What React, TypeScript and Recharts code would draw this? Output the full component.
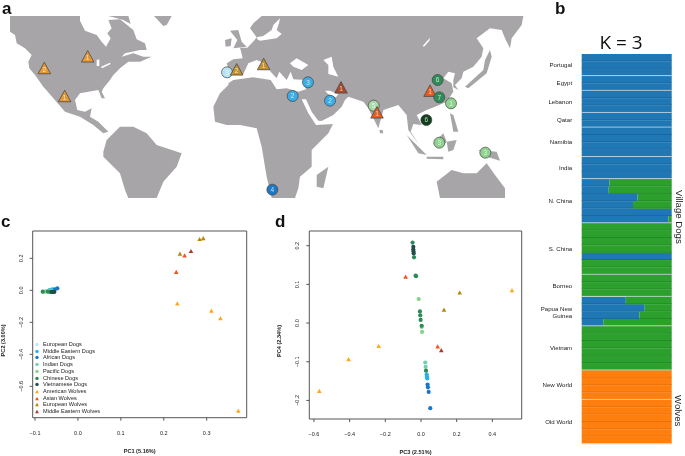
import { BarChart, Bar, XAxis, YAxis, ScatterChart, Scatter, ReferenceArea, Legend, Label } from 'recharts';

// map units are 3 per screen pixel
const northAmerica = [[30,48],[240,48],[240,62],[255,92],[290,105],[305,125],[318,140],[332,115],[322,100],[335,85],[325,60],[360,58],[400,90],[410,118],[435,130],[440,150],[420,150],[375,160],[365,170],[400,160],[430,170],[455,170],[420,185],[385,185],[360,205],[340,225],[330,240],[310,265],[305,275],[315,295],[305,295],[295,270],[240,280],[225,300],[232,330],[255,335],[275,325],[270,350],[295,365],[325,395],[310,400],[280,375],[240,350],[195,335],[160,295],[130,260],[105,225],[88,205],[85,185],[95,165],[75,145],[50,130],[45,105],[30,95]];
const arcticIsland = [[325,48],[385,48],[392,72],[370,60],[340,52]];
const southAmerica = [[310,455],[320,420],[360,380],[400,380],[440,400],[470,435],[545,460],[530,500],[490,545],[470,594],[385,594],[375,570],[360,520],[310,470]];
const greenland = [[462,48],[515,48],[500,75],[490,78]];
const afroEurasia = [[640,320],[660,280],[685,255],[690,222],[680,190],[700,178],[728,175],[722,150],[720,143],[742,143],[762,122],[770,112],[750,85],[760,70],[785,48],[1570,48],[1565,75],[1535,115],[1530,145],[1515,115],[1505,90],[1470,85],[1430,115],[1450,145],[1445,170],[1420,200],[1390,215],[1385,235],[1365,255],[1375,270],[1360,262],[1360,240],[1365,220],[1345,215],[1330,235],[1355,250],[1360,275],[1340,305],[1305,320],[1280,330],[1250,345],[1265,375],[1240,372],[1232,395],[1258,435],[1225,390],[1220,345],[1195,315],[1150,330],[1135,385],[1105,325],[1090,305],[1045,290],[1035,300],[1025,320],[1000,345],[960,365],[960,372],[1000,370],[985,400],[935,450],[935,500],[900,530],[895,565],[885,594],[815,594],[800,530],[785,440],[770,385],[720,375],[680,375],[645,365]];
const britain = [[690,92],[715,90],[725,125],[740,140],[700,145],[712,120]];
const ireland = [[675,120],[695,115],[692,138],[677,140]];
const madagascar = [[950,525],[985,500],[970,565],[950,560]];
const japan = [[1395,260],[1450,210],[1455,180],[1470,150],[1475,170],[1460,220],[1405,265]];
const sumatra = [[1220,405],[1280,465],[1255,460]];
const java = [[1280,470],[1330,470],[1330,478],[1280,476]];
const borneo = [[1300,430],[1330,400],[1340,425],[1320,445]];
const sulawesi = [[1340,425],[1370,420],[1360,450],[1345,455]];
const philippines = [[1350,340],[1360,345],[1375,395],[1360,395]];
const sriLanka = [[1138,390],[1148,390],[1150,400],[1140,400]];
const newGuinea = [[1435,450],[1490,455],[1500,482],[1460,470]];
const australia = [[1310,545],[1355,510],[1390,520],[1430,520],[1460,490],[1485,525],[1515,565],[1515,594],[1320,594]];

const gulfOfCalifornia = [[133,265],[163,300],[160,310],[130,275]];
const baltic = [[770,112],[790,108],[815,90],[820,75],[840,55],[837,70],[830,90],[845,102],[830,115],[780,122],[772,118]];
const mediterranean = [[685,250],[690,225],[730,222],[745,190],[770,180],[795,190],[812,215],[830,235],[838,215],[860,240],[872,215],[880,238],[915,240],[918,268],[895,275],[860,265],[830,268],[812,240],[760,232],[700,240]];
const blackSea = [[870,190],[890,175],[925,195],[905,210],[880,200]];
const caspian = [[970,180],[995,170],[1000,200],[1015,230],[985,222],[985,195]];
const redSea = [[905,298],[918,298],[935,335],[955,362],[1000,365],[1000,372],[948,375],[925,340]];
const persianGulf = [[975,272],[990,272],[1015,283],[1008,292],[985,283]];
const baikal = [[1268,138],[1290,113],[1288,122],[1272,140]];
const greatLakes = [[290,180],[298,178],[298,198],[290,198]];
const lakeErie = [[303,200],[330,188],[332,192],[306,205]];

const landShapes = [northAmerica, arcticIsland, southAmerica, greenland, afroEurasia, britain, ireland, madagascar, japan, sumatra, java, borneo, sulawesi, philippines, sriLanka, newGuinea, australia];
const waterShapes = [gulfOfCalifornia, baltic, mediterranean, blackSea, caspian, redSea, persianGulf, baikal, greatLakes, lakeErie];

const americanSites = [{ x: 133, y: 204, n: '2' }, { x: 263, y: 169, n: '1' }, { x: 194, y: 288, n: '1' }];
const europeanSites = [{ x: 710, y: 208, n: '2' }, { x: 791, y: 192, n: '1' }];
const asianSites = [{ x: 1131, y: 337, n: '1' }, { x: 1290, y: 272, n: '1' }];
const middleEastSites = [{ x: 1023, y: 262, n: '1' }];
const euroDogSites = [{ x: 681, y: 217, n: '3' }];
const meDogSites = [{ x: 924, y: 247, n: '3' }, { x: 878, y: 288, n: '2' }, { x: 990, y: 302, n: '2' }];
const africanDogSites = [{ x: 817, y: 569, n: '4' }];
const indianDogSites = [{ x: 1121, y: 317, n: '5' }];
const chineseDogSites = [{ x: 1313, y: 240, n: '6' }, { x: 1318, y: 292, n: '7' }];
const pacificDogSites = [{ x: 1353, y: 310, n: '1' }, { x: 1318, y: 428, n: '3' }, { x: 1456, y: 458, n: '3' }];
const vietDogSites = [{ x: 1279, y: 360, n: '6' }];

const groupNames = ['Portugal', 'Egypt', 'Lebanon', 'Qatar', 'Namibia', 'India', 'N. China', 'S. China', 'Borneo', 'Papua New Guinea', 'Vietnam', 'New World', 'Old World'];
const groupSizes = [3, 2, 3, 2, 4, 3, 6, 7, 3, 4, 6, 4, 6];
const blueShare = [1,1,1, 1,1, 1,1,1, 1,1, 1,1,1,1, 1,1,1, 0.31,0.30,0.62,0.57,1,0.965, 0,0,0,0,1,0,0, 0,0,0, 0.49,0.70,0.64,0.24, 0,0,0,0,0,0, 0,0,0,0, 0,0,0,0,0,0];
const greenShare = [0,0,0, 0,0, 0,0,0, 0,0, 0,0,0,0, 0,0,0, 0.69,0.70,0.38,0.43,0,0.035, 1,1,1,1,0,1,1, 1,1,1, 0.51,0.30,0.36,0.76, 1,1,1,1,1,1, 0,0,0,0, 0,0,0,0,0,0];
const orangeShare = [0,0,0, 0,0, 0,0,0, 0,0, 0,0,0,0, 0,0,0, 0,0,0,0,0,0, 0,0,0,0,0,0,0, 0,0,0, 0,0,0,0, 0,0,0,0,0,0, 1,1,1,1, 1,1,1,1,1,1];

// PC1 / PC2
const euroDogsC = [{ x: -0.066, y: -0.002 }, { x: -0.060, y: -0.004 }];
const meDogsC = [{ x: -0.066, y: 0.002 }, { x: -0.060, y: 0.006 }];
const africanDogsC = [{ x: -0.054, y: 0.006 }, { x: -0.048, y: 0.0125 }];
const indianDogsC = [{ x: -0.074, y: -0.006 }, { x: -0.068, y: -0.004 }, { x: -0.062, y: -0.002 }];
const pacificDogsC = [{ x: -0.078, y: -0.008 }, { x: -0.066, y: -0.01 }, { x: -0.058, y: -0.008 }];
const chineseDogsC = [{ x: -0.082, y: -0.008 }, { x: -0.07, y: -0.008 }, { x: -0.064, y: -0.01 }];
const vietDogsC = [{ x: -0.061, y: -0.01 }, { x: -0.058, y: -0.01 }, { x: -0.055, y: -0.01 }];
const americanWolvesC = [{ x: 0.2315, y: -0.081 }, { x: 0.311, y: -0.127 }, { x: 0.332, y: -0.173 }, { x: 0.3736, y: -0.752 }];
const asianWolvesC = [{ x: 0.229, y: 0.115 }, { x: 0.2485, y: 0.219 }];
const europeanWolvesC = [{ x: 0.2377, y: 0.229 }, { x: 0.2835, y: 0.321 }, { x: 0.292, y: 0.327 }];
const meWolvesC = [{ x: 0.2633, y: 0.246 }];

// PC3 / PC4
const euroDogsD = [{ x: 0.032, y: -0.14 }];
const meDogsD = [{ x: 0.032, y: -0.133 }, { x: 0.034, y: -0.139 }, { x: 0.035, y: -0.143 }];
const africanDogsD = [{ x: 0.037, y: -0.159 }, { x: 0.039, y: -0.166 }, { x: 0.043, y: -0.178 }, { x: 0.052, y: -0.22 }];
const indianDogsD = [{ x: 0.024, y: -0.102 }, { x: 0.026, y: -0.113 }];
const pacificDogsD = [{ x: -0.013, y: 0.062 }, { x: 0.006, y: -0.023 }, { x: 0.004, y: -0.01 }];
const chineseDogsD = [{ x: -0.047, y: 0.208 }, { x: -0.039, y: 0.17 }, { x: -0.03, y: 0.123 }, { x: -0.028, y: 0.121 }, { x: -0.006, y: 0.03 }, { x: -0.004, y: 0.02 }, { x: -0.002, y: 0.008 }, { x: 0.004, y: -0.007 }, { x: 0.028, y: -0.123 }];
const vietDogsD = [{ x: -0.043, y: 0.197 }, { x: -0.043, y: 0.19 }, { x: -0.042, y: 0.185 }, { x: -0.041, y: 0.18 }];
const americanWolvesD = [{ x: 0.51, y: 0.085 }, { x: -0.237, y: -0.059 }, { x: -0.406, y: -0.093 }, { x: -0.57, y: -0.175 }];
const asianWolvesD = [{ x: -0.086, y: 0.12 }, { x: 0.0935, y: -0.06 }];
const europeanWolvesD = [{ x: 0.217, y: 0.079 }, { x: 0.129, y: 0.035 }];
const meWolvesD = [{ x: 0.114, y: -0.07 }];

const seriesNames = ['European Dogs', 'Middle Eastern Dogs', 'African Dogs', 'Indian Dogs', 'Pacific Dogs', 'Chinese Dogs', 'Vietnamese Dogs', 'American Wolves', 'Asian Wolves', 'European Wolves', 'Middle Eastern Wolves'];
const seriesColors = ['#bfe8f5', '#1fb4ea', '#1976c8', '#6fd0b0', '#86d48a', '#2a8a58', '#1f4d48', '#ffa81e', '#f4511e', '#b8860b', '#a83c2c'];
const seriesC = [euroDogsC, meDogsC, africanDogsC, indianDogsC, pacificDogsC, chineseDogsC, vietDogsC, americanWolvesC, asianWolvesC, europeanWolvesC, meWolvesC];
const seriesD = [euroDogsD, meDogsD, africanDogsD, indianDogsD, pacificDogsD, chineseDogsD, vietDogsD, americanWolvesD, asianWolvesD, europeanWolvesD, meWolvesD];

const SANS = '"Liberation Sans", Arial, sans-serif';

const rows: any[] = [];
const labelRows: Record<string, { name: string; half: boolean }> = {};
groupNames.forEach((name, g) => {
  const start = rows.length;
  for (let i = 0; i < groupSizes[g]; i++) {
    const idx = rows.length;
    rows.push({ id: `r${idx}`, blue: blueShare[idx], green: greenShare[idx], orange: orangeShare[idx], groupEnd: i === groupSizes[g] - 1 });
  }
  labelRows[`r${start + Math.floor((groupSizes[g] - 1) / 2)}`] = { name, half: groupSizes[g] % 2 === 0 };
});

const NoDot = () => null;

function landLine(fill: string) {
  return (props: any) => <polygon points={props.points.map((p: any) => `${p.x},${p.y}`).join(' ')} fill={fill} stroke="none" />;
}

function Triangle({ cx, cy, fill, size, stroke, strokeWidth }: any) {
  const h = size * 0.92;
  return <polygon points={`${cx - size / 2},${cy + h / 2} ${cx + size / 2},${cy + h / 2} ${cx},${cy - h / 2}`} fill={fill} stroke={stroke} strokeWidth={strokeWidth} />;
}

function siteShape(kind: 'tri' | 'dot', fill: string) {
  return (props: any) => (
    <g>
      {kind === 'tri'
        ? <Triangle cx={props.cx} cy={props.cy} size={12.5} fill={fill} stroke="#4a4a4a" strokeWidth={0.8} />
        : <circle cx={props.cx} cy={props.cy} r={5.5} fill={fill} stroke="#444" strokeWidth={0.7} />}
      <text x={props.cx} y={props.cy + (kind === 'tri' ? 3.5 : 2.2)} textAnchor="middle" fontSize={6.5} fontFamily={SANS} fill="#fff" fillOpacity={0.75}>{props.payload.n}</text>
    </g>
  );
}

function pcaShape(isWolf: boolean) {
  return (props: any) => isWolf
    ? <Triangle cx={props.cx} cy={props.cy} size={4.6} fill={props.fill} />
    : <circle cx={props.cx} cy={props.cy} r={2.1} fill={props.fill} />;
}

function PcaLegend({ payload }: any) {
  return (
    <div style={{ fontFamily: SANS, fontSize: 5.6, color: '#222' }}>
      {(payload || []).map((entry: any) => {
        const wolf = String(entry.value).includes('Wolves');
        return (
          <div key={entry.value} style={{ height: 6.73, lineHeight: '6.73px', display: 'flex', alignItems: 'center', whiteSpace: 'nowrap' }}>
            <svg width={11} height={6.73} style={{ flex: 'none' }}>
              {wolf ? <Triangle cx={5} cy={3.4} size={3.8} fill={entry.color} /> : <circle cx={5} cy={3.4} r={1.7} fill={entry.color} />}
            </svg>
            {entry.value}
          </div>
        );
      })}
    </div>
  );
}

function YTick({ x, y, payload }: any) {
  return (
    <text transform={`rotate(-90 ${x - 5} ${y})`} x={x - 5} y={y} textAnchor="middle" fontSize={5.5} fontFamily={SANS} fill="#222">
      {fmt(payload.value)}
    </text>
  );
}

function fmt(v: number) {
  const s = Math.abs(v).toFixed(1);
  return v < 0 ? `\u2212${s}` : s;
}

function PcaPlot({ series, xDomain, yDomain, xTicks, yTicks, xLabel, yLabel, yLabelOffset, margin, showLegend, width }: any) {
  return (
    <ScatterChart width={width} height={241} margin={margin}>
      <XAxis type="number" dataKey="x" domain={xDomain} ticks={xTicks} height={1} allowDataOverflow
        tickFormatter={fmt} tick={{ fontSize: 5.5, fontFamily: SANS, fill: '#222' }} tickLine={{ stroke: '#555' }} tickSize={3} tickMargin={10} axisLine={false} interval={0}>
        <Label value={xLabel} position="bottom" offset={30} fontSize={5.6} fontWeight="bold" fontFamily={SANS} fill="#222" />
      </XAxis>
      <YAxis type="number" dataKey="y" domain={yDomain} ticks={yTicks} width={1} allowDataOverflow
        tick={<YTick />} tickLine={{ stroke: '#555' }} tickSize={3} axisLine={false} interval={0}>
        <Label value={yLabel} position="left" angle={-90} offset={yLabelOffset} fontSize={5.6} fontWeight="bold" fontFamily={SANS} fill="#222" />
      </YAxis>
      <ReferenceArea x1={xDomain[0]} x2={xDomain[1]} y1={yDomain[0]} y2={yDomain[1]} fill="none" stroke="#555" strokeWidth={1} strokeOpacity={1} ifOverflow="visible" />
      {series.map((points: any[], i: number) => (
        <Scatter key={seriesNames[i]} name={seriesNames[i]} data={points} fill={seriesColors[i]} isAnimationActive={false} shape={pcaShape(i >= 7)} />
      ))}
      {showLegend && <Legend layout="vertical" align="center" verticalAlign="middle" itemSorter={null} content={<PcaLegend />} wrapperStyle={{ position: 'absolute', left: 32, top: 126, width: 120, height: 80 }} />}
    </ScatterChart>
  );
}

function RowBar({ x, y, width, height, fill, payload, edge }: any) {
  if (!width) return null;
  const line = payload.groupEnd ? '#d6e2ea' : edge;
  return (
    <g>
      <rect x={x} y={y} width={width} height={height + 0.1} fill={fill} />
      <line x1={x} x2={x + width} y1={y + height - 0.4} y2={y + height - 0.4} stroke={line} strokeWidth={payload.groupEnd ? 0.9 : 0.7} />
    </g>
  );
}

function RowTick({ x, y, payload }: any) {
  const info = labelRows[payload.value];
  if (!info) return null;
  const yy = y + (info.half ? 3.68 : 0) + 2;
  const common = { x: x - 1.5, textAnchor: 'end', fontSize: 6.1, fontFamily: SANS, fill: '#222' } as any;
  if (info.name === 'Papua New Guinea') {
    return (
      <g>
        <text {...common} y={yy - 3}>Papua New</text>
        <text {...common} y={yy + 4}>Guinea</text>
      </g>
    );
  }
  return <text {...common} y={yy}>{info.name}</text>;
}

const letterStyle: any = { position: 'absolute', fontFamily: SANS, fontWeight: 'bold', fontSize: 17, lineHeight: '16px', color: '#111' };
const sideStyle: any = { position: 'absolute', fontFamily: SANS, fontSize: 9.6, lineHeight: '9px', color: '#222', writingMode: 'vertical-rl', whiteSpace: 'nowrap' };

export default function App() {
  return (
    <div style={{ position: 'absolute', left: 0, top: 0, width: 685, height: 456, background: '#fff', overflow: 'hidden', filter: 'blur(0.3px)' }}>
      <div style={{ position: 'absolute', left: 0, top: 0 }}>
        <ScatterChart width={540} height={210} margin={{ top: 0, right: 0, bottom: 0, left: 0 }}>
          <XAxis type="number" dataKey="x" domain={[0, 1620]} hide />
          <YAxis type="number" dataKey="y" domain={[0, 630]} reversed hide />
          {landShapes.map((shape, i) => (
            <Scatter key={`land${i}`} data={shape.map(([x, y]) => ({ x, y }))} line={landLine('#a7a5a7')} lineType="joint" shape={NoDot} isAnimationActive={false} />
          ))}
          {waterShapes.map((shape, i) => (
            <Scatter key={`water${i}`} data={shape.map(([x, y]) => ({ x, y }))} line={landLine('#fff')} lineType="joint" shape={NoDot} isAnimationActive={false} />
          ))}
          <Scatter data={americanSites} shape={siteShape('tri', '#e8982e')} isAnimationActive={false} />
          <Scatter data={euroDogSites} shape={siteShape('dot', '#b6e2f2')} isAnimationActive={false} />
          <Scatter data={europeanSites} shape={siteShape('tri', '#c4912a')} isAnimationActive={false} />
          <Scatter data={middleEastSites} shape={siteShape('tri', '#a84a2a')} isAnimationActive={false} />
          <Scatter data={meDogSites} shape={siteShape('dot', '#3aaee6')} isAnimationActive={false} />
          <Scatter data={africanDogSites} shape={siteShape('dot', '#1b78c4')} isAnimationActive={false} />
          <Scatter data={indianDogSites} shape={siteShape('dot', '#a9d8a9')} isAnimationActive={false} />
          <Scatter data={asianSites} shape={siteShape('tri', '#ea5a1e')} isAnimationActive={false} />
          <Scatter data={chineseDogSites} shape={siteShape('dot', '#2f8b57')} isAnimationActive={false} />
          <Scatter data={pacificDogSites} shape={siteShape('dot', '#8fd18f')} isAnimationActive={false} />
          <Scatter data={vietDogSites} shape={siteShape('dot', '#123f1e')} isAnimationActive={false} />
        </ScatterChart>
      </div>

      <div style={{ position: 'absolute', left: 540, top: 0 }}>
        <BarChart width={145} height={456} layout="vertical" data={rows} barCategoryGap={0} barGap={0} barSize={7.35} margin={{ top: 54, right: 13.3, bottom: 12, left: 40.7 }}>
          <XAxis type="number" domain={[0, 1]} hide />
          <YAxis type="category" dataKey="id" width={1} interval={0} axisLine={false} tickLine={false} tick={<RowTick />} />
          <Bar dataKey="blue" stackId="k" fill="#1f77b4" isAnimationActive={false} shape={(p: any) => <RowBar {...p} edge="#17609a" />} />
          <Bar dataKey="green" stackId="k" fill="#2ca02c" isAnimationActive={false} shape={(p: any) => <RowBar {...p} edge="#1f7f2a" />} />
          <Bar dataKey="orange" stackId="k" fill="#ff7f0e" isAnimationActive={false} shape={(p: any) => <RowBar {...p} edge="#de6a0a" />} />
        </BarChart>
      </div>

      <div style={{ position: 'absolute', left: 0, top: 215 }}>
        <PcaPlot width={270} series={seriesC} showLegend xDomain={[-0.1054, 0.3932]} yDomain={[-0.796, 0.371]}
          xTicks={[-0.1, 0, 0.1, 0.2, 0.3]} yTicks={[-0.6, -0.4, -0.2, 0, 0.2]} xLabel="PC1 (5.16%)" yLabel="PC2 (3.00%)" yLabelOffset={28.7}
          margin={{ top: 16, right: 23.3, bottom: 37.3, left: 31.7 }} />
      </div>
      <div style={{ position: 'absolute', left: 270, top: 215 }}>
        <PcaPlot width={270} series={seriesD} xDomain={[-0.626, 0.5645]} yDomain={[-0.248, 0.238]}
          xTicks={[-0.6, -0.4, -0.2, 0, 0.2, 0.4]} yTicks={[-0.2, -0.1, 0, 0.1, 0.2]} xLabel="PC3 (2.51%)" yLabel="PC4 (2.34%)" yLabelOffset={29.3}
          margin={{ top: 16, right: 18.3, bottom: 36, left: 38.3 }} />
      </div>

      <div style={{ ...letterStyle, left: 2, top: 1 }}>a</div>
      <div style={{ ...letterStyle, left: 555, top: 1 }}>b</div>
      <div style={{ ...letterStyle, left: 1, top: 214 }}>c</div>
      <div style={{ ...letterStyle, left: 275, top: 214 }}>d</div>
      <div style={{ position: 'absolute', left: 581, top: 31, width: 80, textAlign: 'center', fontFamily: '"Open Sans", sans-serif', fontSize: 19, lineHeight: '22px', color: '#111' }}>K = 3</div>
      <div style={{ ...sideStyle, left: 675, top: 190 }}>Village Dogs</div>
      <div style={{ ...sideStyle, left: 674, top: 395 }}>Wolves</div>
    </div>
  );
}
